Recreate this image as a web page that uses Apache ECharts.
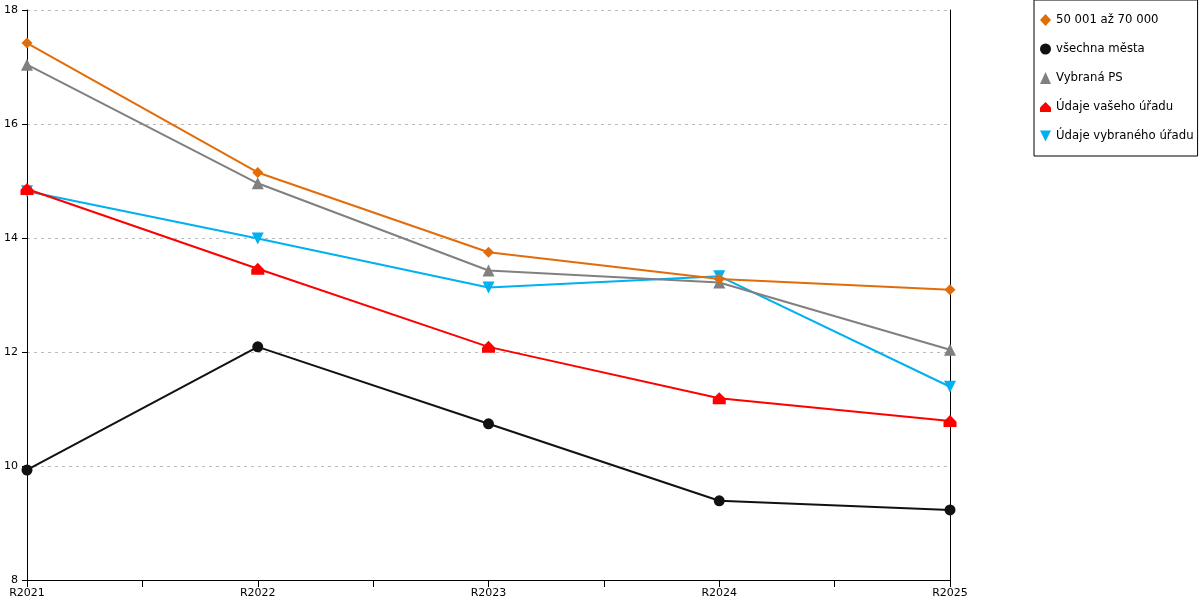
<!DOCTYPE html>
<html>
<head>
<meta charset="utf-8">
<script src="https://cdn.jsdelivr.net/npm/echarts@6/dist/echarts.min.js"></script>
<style>
  html, body { margin: 0; padding: 0; background: #fff; }
  #chart { width: 1200px; height: 600px; }
</style>
</head>
<body>
<div id="chart"></div>
<script>
// data
const years = ['R2021', 'R2022', 'R2023', 'R2024', 'R2025'];
const seriesNames = ['50 001 až 70 000', 'všechna města', 'Vybraná PS', 'Údaje vašeho úřadu', 'Údaje vybraného úřadu'];
const size50to70 = [17.42, 15.15, 13.75, 13.28, 13.09];
const allCities = [9.93, 12.09, 10.74, 9.39, 9.23];
const selectedPS = [17.04, 14.96, 13.43, 13.22, 12.04];
const yourOffice = [14.86, 13.46, 12.09, 11.19, 10.79];
const selectedOffice = [14.82, 13.99, 13.13, 13.33, 11.39];
// helper categories so ticks fall half way between the years
const midTicks = ['m1', 'm2', 'm3', 'm4'];

const colors = ['#E36C0A', '#111111', '#808080', '#FF0000', '#00B0F0'];
const symbols = [
    'diamond',
    'circle',
    'triangle',
    'path://M5,0 L10,5 L10,9 L0,9 L0,5 Z',
    'path://M0,0 L10,0 L5,10 Z'
];
const symbolSizes = [11, 11, 12, [13, 12], 12];
const dataSets = [size50to70, allCities, selectedPS, yourOffice, selectedOffice];

const chart = echarts.init(document.getElementById('chart'));

const series = dataSets.map((d, i) => ({
    name: seriesNames[i],
    type: 'line',
    data: d,
    symbol: symbols[i],
    symbolSize: symbolSizes[i],
    showAllSymbol: true,
    lineStyle: { color: colors[i], width: 2 },
    itemStyle: { color: colors[i] },
    emphasis: { disabled: true },
    z: 10 - i
}));

chart.setOption({
    animation: false,
    textStyle: { fontFamily: 'DejaVu Sans' },
    grid: { left: 27, right: 250, top: 10, bottom: 20, containLabel: false },
    legend: {
        orient: 'vertical',
        left: 1034,
        top: 0,
        padding: [14, 4, 14, 6],
        itemGap: 17,
        itemWidth: 11,
        itemHeight: 12,
        borderColor: '#000',
        borderWidth: 1,
        textStyle: { fontSize: 11.7, color: '#000', fontFamily: 'DejaVu Sans' },
        data: seriesNames.map((n, i) => ({ name: n, icon: symbols[i] }))
    },
    xAxis: [
        {
            type: 'category',
            data: years,
            boundaryGap: false,
            axisLine: { lineStyle: { color: '#000', width: 1 } },
            axisTick: { show: true, length: 7, lineStyle: { color: '#000', width: 1 } },
            axisLabel: { color: '#000', fontSize: 11, margin: 8, showMinLabel: true, showMaxLabel: true }
        },
        {
            type: 'category',
            data: midTicks,
            position: 'bottom',
            boundaryGap: true,
            axisLine: { show: false },
            axisTick: { show: true, alignWithLabel: true, length: 7, lineStyle: { color: '#000', width: 1 } },
            axisLabel: { show: false }
        }
    ],
    yAxis: [
        {
            type: 'value',
            min: 8,
            max: 18,
            interval: 2,
            axisLine: { show: true, lineStyle: { color: '#000' } },
            axisTick: { show: true, length: 5, lineStyle: { color: '#000', width: 1 } },
            axisLabel: { color: '#000', fontSize: 11, margin: 9 },
            splitLine: { lineStyle: { color: '#bbb', type: [3, 4] } }
        },
        {
            type: 'value',
            min: 8,
            max: 18,
            interval: 2,
            position: 'right',
            axisLine: { show: true, lineStyle: { color: '#000' } },
            axisTick: { show: false },
            axisLabel: { show: false },
            splitLine: { show: false }
        }
    ],
    series: series
});
</script>
</body>
</html>
